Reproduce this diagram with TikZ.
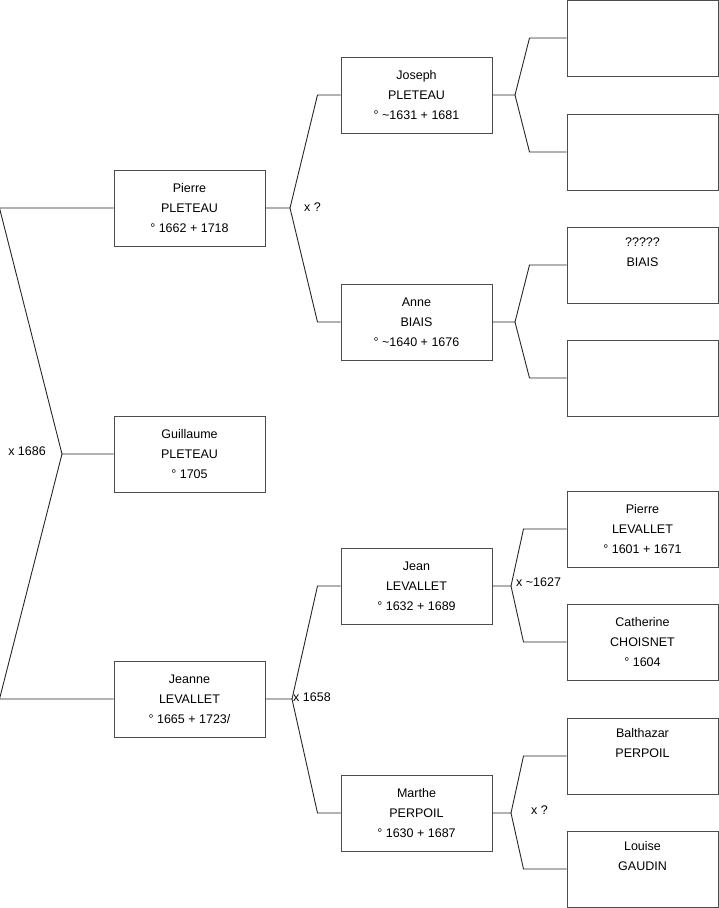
\documentclass[tikz,border=0pt]{standalone}
\usepackage{fontspec}
\setmainfont{Liberation Sans}
\usetikzlibrary{calc}
\usepackage{xcolor}

\tikzset{
  personbox/.style={draw=black!70, line width=1pt, fill=white, minimum width=151pt,
    minimum height=76pt, inner sep=0pt, align=center,
    font=\fontsize{12.5}{20}\selectfont, text=black},
  link/.style={draw=black!85, line width=0.9pt},
  union/.style={font=\fontsize{12.5}{14}\selectfont, text=black, inner sep=0pt}
}

\begin{document}
\begin{tikzpicture}[x=1pt,y=-1pt]
\useasboundingbox (0,0) rectangle (719,908);

% generation 1 and 2
\node[personbox] (pierre) at (189.5,208) {Pierre\\PLETEAU\\° 1662 + 1718};
\node[personbox] (guillaume) at (189.5,454) {Guillaume\\PLETEAU\\° 1705};
\node[personbox] (jeanne) at (189.5,699) {Jeanne\\LEVALLET\\° 1665 + 1723/};

\node[personbox] (joseph) at (416.5,95) {Joseph\\PLETEAU\\° \textasciitilde1631 + 1681};
\node[personbox] (anne) at (416.5,322) {Anne\\BIAIS\\° \textasciitilde1640 + 1676};
\node[personbox] (jean) at (416.5,586) {Jean\\LEVALLET\\° 1632 + 1689};
\node[personbox] (marthe) at (416.5,813) {Marthe\\PERPOIL\\° 1630 + 1687};

% generation 3
\node[personbox] (josephP) at (642.5,38) {};
\node[personbox] (josephM) at (642.5,152) {};
\node[personbox] (anneP) at (642.5,265) {?????\\BIAIS\\\strut};
\node[personbox] (anneM) at (642.5,378) {};
\node[personbox] (jeanP) at (642.5,529) {Pierre\\LEVALLET\\° 1601 + 1671};
\node[personbox] (jeanM) at (642.5,642) {Catherine\\CHOISNET\\° 1604};
\node[personbox] (martheP) at (642.5,756) {Balthazar\\PERPOIL\\\strut};
\node[personbox] (martheM) at (642.5,869) {Louise\\GAUDIN\\\strut};

% fork points
\coordinate (mG) at (62,454);
\coordinate (mPi) at (290,208);
\coordinate (mJe) at (292,699);
\coordinate (mJo) at (515,95);
\coordinate (mAn) at (515,322);
\coordinate (mJn) at (511,586);
\coordinate (mMa) at (511,813);

% connectors
\draw[link] (guillaume.west) -- (mG) -- ([xshift=-114pt]pierre.west) -- (pierre.west);
\draw[link] (mG) -- ([xshift=-114pt]jeanne.west) -- (jeanne.west);

\draw[link] (pierre.east) -- (mPi) -- ([xshift=-23pt]joseph.west) -- (joseph.west);
\draw[link] (mPi) -- ([xshift=-23pt]anne.west) -- (anne.west);
\draw[link] (jeanne.east) -- (mJe) -- ([xshift=-23pt]jean.west) -- (jean.west);
\draw[link] (mJe) -- ([xshift=-23pt]marthe.west) -- (marthe.west);

\draw[link] (joseph.east) -- (mJo) -- ([xshift=-37pt]josephP.west) -- (josephP.west);
\draw[link] (mJo) -- ([xshift=-37pt]josephM.west) -- (josephM.west);
\draw[link] (anne.east) -- (mAn) -- ([xshift=-37pt]anneP.west) -- (anneP.west);
\draw[link] (mAn) -- ([xshift=-37pt]anneM.west) -- (anneM.west);
\draw[link] (jean.east) -- (mJn) -- ([xshift=-43pt]jeanP.west) -- (jeanP.west);
\draw[link] (mJn) -- ([xshift=-43pt]jeanM.west) -- (jeanM.west);
\draw[link] (marthe.east) -- (mMa) -- ([xshift=-43pt]martheP.west) -- (martheP.west);
\draw[link] (mMa) -- ([xshift=-43pt]martheM.west) -- (martheM.west);

% marriages
\node[union, anchor=east] (uG) at (46,451) {x 1686};
\node[union, anchor=west] (uPi) at (304,207) {x ?};
\node[union, anchor=west] (uJe) at (293,697) {x 1658};
\node[union, anchor=west] (uJn) at (516,582) {x \textasciitilde1627};
\node[union, anchor=west] (uMa) at (531,810) {x ?};
\end{tikzpicture}
\end{document}
